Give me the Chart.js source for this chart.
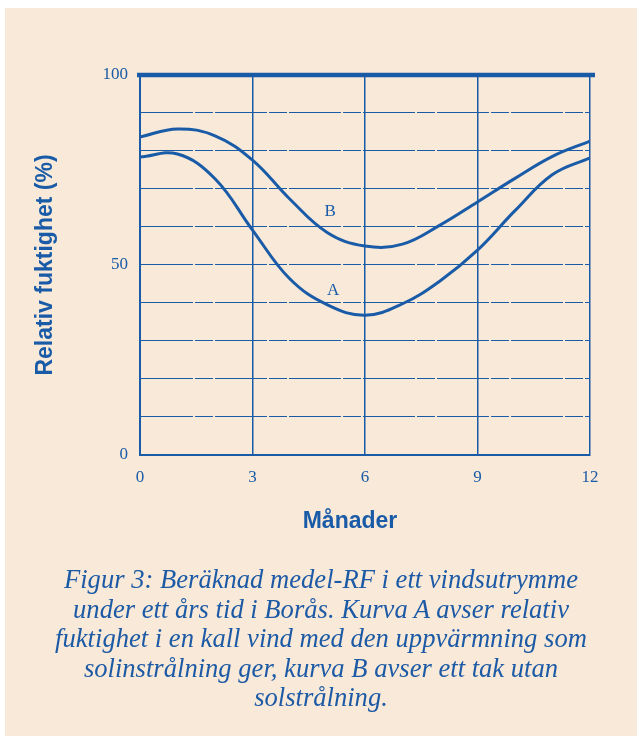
<!DOCTYPE html>
<html>
<head>
<meta charset="utf-8">
<script src="https://cdn.jsdelivr.net/npm/chart.js@4.4.1/dist/chart.umd.min.js"></script>
<style>
  html, body { margin: 0; padding: 0; background: #ffffff; width: 637px; height: 736px; overflow: hidden; }
  #bg { position: absolute; left: 5px; top: 8px; width: 632px; height: 728px; background: #f8e9d8; }
  #c { position: absolute; left: 0; top: 0; }
  #xtitle { position: absolute; left: 250px; width: 200px; top: 506px; text-align: center;
    font-family: 'Liberation Sans', Arial, sans-serif; font-weight: bold; font-size: 23px; line-height: 28px; color: #1a5ba8; }
  #caption { position: absolute; left: 5px; top: 565px; width: 652px; margin-left: -10px; text-align: center;
    font-family: 'Liberation Serif', 'DejaVu Serif', serif; font-style: italic; font-size: 26.6px;
    line-height: 29.5px; color: #1d5aa6; }
</style>
</head>
<body>
<div id="bg"></div>
<canvas id="c" width="637" height="736"></canvas>
<div id="xtitle">Månader</div>
<div id="caption">Figur 3: Beräknad medel-RF i ett vindsutrymme<br>under ett års tid i Borås. Kurva A avser relativ<br>fuktighet i en kall vind med den uppvärmning som<br>solinstrålning ger, kurva B avser ett tak utan<br>solstrålning.</div>
<script>
const months = [0, 1, 2, 3, 4, 5, 6, 7, 8, 9, 10, 11, 12];
const curveA = [78.4, 79.2, 72.7, 59.2, 46.3, 39.5, 36.8, 39.8, 45.8, 53.9, 64.3, 73.8, 78.2];
const curveB = [83.7, 85.8, 84.0, 77.6, 67.3, 58.5, 55.0, 55.5, 60.5, 66.6, 72.8, 78.6, 82.6];
const xTicks = [0, 3, 6, 9, 12];
const yTickLabels = [0, 50, 100];
const yMax = 100;
const curveLabels = [
  { text: 'A', x: 5.15, y: 43.2 },
  { text: 'B', x: 5.07, y: 64.0 }
];

const BLUE = '#1a5ba8';

const extrasPlugin = {
  id: 'extras',
  afterDatasetsDraw(chart) {
    const { ctx, scales, chartArea } = chart;
    ctx.save();
    const yTop = scales.y.getPixelForValue(yMax);
    ctx.strokeStyle = BLUE;
    ctx.lineWidth = 4.5;
    ctx.beginPath();
    ctx.moveTo(chartArea.left - 3, yTop);
    ctx.lineTo(chartArea.right + 5, yTop);
    ctx.stroke();
    ctx.fillStyle = BLUE;
    ctx.font = '17px "Liberation Serif", serif';
    ctx.textAlign = 'center';
    ctx.textBaseline = 'middle';
    curveLabels.forEach(l => {
      ctx.fillText(l.text, scales.x.getPixelForValue(l.x), scales.y.getPixelForValue(l.y));
    });
    ctx.restore();
  }
};

new Chart(document.getElementById('c'), {
  type: 'line',
  data: {
    datasets: [
      { label: 'A', data: months.map((m, i) => ({ x: m, y: curveA[i] })) },
      { label: 'B', data: months.map((m, i) => ({ x: m, y: curveB[i] })) }
    ]
  },
  options: {
    responsive: false,
    animation: false,
    layout: { padding: { left: 0, top: 75, right: 47, bottom: 181 } },
    elements: {
      line: { borderColor: BLUE, borderWidth: 3, tension: 0.4, fill: false },
      point: { radius: 0 }
    },
    plugins: { legend: { display: false }, tooltip: { enabled: false } },
    scales: {
      x: {
        type: 'linear', min: 0, max: 12,
        afterBuildTicks: s => { s.ticks = xTicks.map(v => ({ value: v })); },
        afterFit: s => { s.height = 100; },
        ticks: { color: BLUE, font: { family: 'Liberation Serif', size: 17 }, padding: 12, maxRotation: 0 },
        grid: { color: BLUE, lineWidth: 1.5, drawTicks: false },
        border: { color: BLUE, width: 2 }
      },
      y: {
        type: 'linear', min: 0, max: yMax,
        ticks: { stepSize: 10, color: BLUE, font: { family: 'Liberation Serif', size: 17 }, padding: 12,
          callback: v => yTickLabels.includes(v) ? String(v) : '' },
        afterFit: s => { s.width = 140; },
        grid: { color: BLUE, drawTicks: false,
          lineWidth: c => (c.tick && c.tick.value === yMax) ? 0 : 1.1 },
        border: { color: BLUE, width: 2, dash: [52, 2, 18, 2] },
        title: { display: true, text: 'Relativ fuktighet (%)', color: BLUE,
          font: { family: 'Liberation Sans', size: 23, weight: 'bold' }, padding: { top: 32, bottom: 0 } }
      }
    }
  },
  plugins: [extrasPlugin]
});
</script>
</body>
</html>
